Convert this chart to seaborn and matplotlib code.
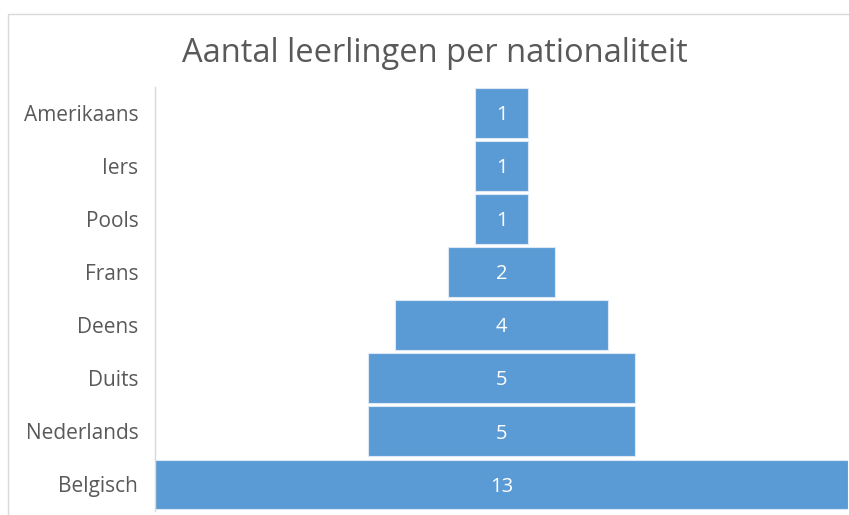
import matplotlib
matplotlib.use("Agg")
import matplotlib.pyplot as plt
import pandas as pd
import seaborn as sns
from matplotlib.patches import Rectangle

# Data
nationalities = ['Amerikaans', 'Iers', 'Pools', 'Frans', 'Deens', 'Duits', 'Nederlands', 'Belgisch']
counts = [1, 1, 1, 2, 4, 5, 5, 13]

df = pd.DataFrame({'nationaliteit': nationalities, 'aantal': counts})
total_width = max(counts)
# offset so every bar is centred (funnel)
df['links'] = [(total_width - c) / 2 for c in counts]

sns.set_style('white')
plt.rcParams['font.family'] = ['Open Sans', 'DejaVu Sans']

fig = plt.figure(figsize=(8.49, 5.15), dpi=100)
ax = fig.add_axes([155 / 849, 1 - 511 / 515, (848 - 155) / 849, (511 - 86.5) / 515])

sns.barplot(data=df, x='aantal', y='nationaliteit', order=nationalities,
            orient='h', color='#5B9BD5', saturation=1, width=0.94,
            left=df['links'].values, edgecolor='#DCE8F5', linewidth=0.8,
            ax=ax)

for i, (c, l) in enumerate(zip(counts, df['links'])):
    ax.text(l + c / 2, i + 0.04, str(c), ha='center', va='center', color='white', fontsize=14.5)

ax.set_xlim(0, total_width)
ax.set_ylim(len(nationalities) - 0.5, -0.5)
ax.set_xlabel('')
ax.set_ylabel('')
ax.set_xticks([])
ax.tick_params(axis='y', length=0, pad=12, labelsize=15, labelcolor='#595959')
for side in ['top', 'right', 'bottom']:
    ax.spines[side].set_visible(False)
ax.spines['left'].set_color('#D9D9D9')
ax.spines['left'].set_linewidth(1)

# chart border (cropped at right and bottom)
fig.patches.append(Rectangle((8 / 849, -0.1), 1.0, 1 - 14 / 515 + 0.1, transform=fig.transFigure,
                             fill=False, edgecolor='#D9D9D9', linewidth=1, zorder=0))

fig.text(435 / 849, 1 - 53 / 515, 'Aantal leerlingen per nationaliteit', ha='center', va='center',
         fontsize=23.5, color='#595959')

fig.savefig('out.png', dpi=100)
